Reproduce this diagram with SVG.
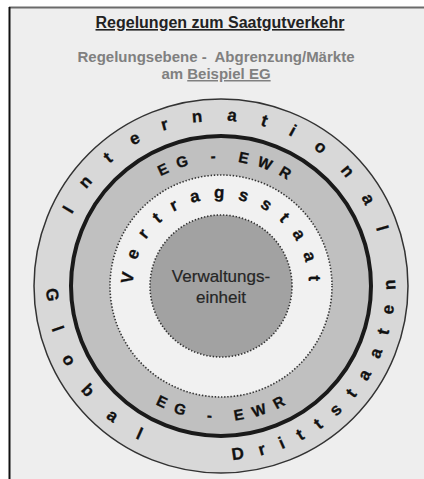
<svg xmlns="http://www.w3.org/2000/svg" xmlns:xlink="http://www.w3.org/1999/xlink" width="424" height="479" viewBox="0 0 424 479">
  <style>
    .ring { font-family: "Liberation Sans", Arial, sans-serif; font-weight: bold; fill: #111; stroke: #111; stroke-width: 0.3; }
    .title { font-family: "Liberation Sans", Arial, sans-serif; font-weight: bold; }
    .dotted { stroke: #333; stroke-width: 1.6; stroke-dasharray: 1.4 1.8; }
  </style>
  <defs>
    <path id="pInt" d="M72.2,214.7 A165,165 0 0 1 385.4,271.6"/>
    <path id="pDritt" d="M232.5,459.6 A174,174 0 0 0 389.1,241.0"/>
    <path id="pGlobal" d="M47.0,289.0 A174,174 0 0 0 190.8,457.4"/>
    <path id="pEgTop" d="M160.8,176.5 A125,125 0 0 1 316.8,205.7"/>
    <path id="pEgBot" d="M155.6,404.1 A135,135 0 0 0 324.4,372.8"/>
    <path id="pVert" d="M133,284.3 A88,88 0 1 1 307.7,301.3"/>
  </defs>

  <rect x="0" y="0" width="424" height="479" fill="#ffffff"/>
  <g id="frame">
    <rect x="9" y="7" width="420" height="480" fill="#eeeeee"/>
    <line x1="9" y1="7.5" x2="424" y2="7.5" stroke="#6a6a6a" stroke-width="2"/>
    <line x1="9.5" y1="7" x2="9.5" y2="479" stroke="#111" stroke-width="2"/>
  </g>

  <g id="heading">
    <text class="title" x="220" y="28" font-size="16" fill="#222" text-anchor="middle" text-decoration="underline">Regelungen zum Saatgutverkehr</text>
    <text class="title" x="216" y="62" font-size="15" fill="#808080" text-anchor="middle" style="white-space:pre">Regelungsebene -  Abgrenzung/Märkte</text>
    <text class="title" x="216" y="79" font-size="15" fill="#808080" text-anchor="middle">am <tspan text-decoration="underline">Beispiel EG</tspan></text>
  </g>

  <g id="ring-global">
    <circle cx="221" cy="286" r="187" fill="#d8d8d8" stroke="#333" stroke-width="1.5"/>
  </g>
  <g id="ring-eg-ewr">
    <circle cx="221" cy="286" r="150" fill="#c0c0c0" stroke="#1a1a1a" stroke-width="4"/>
  </g>
  <g id="ring-vertragsstaat">
    <circle cx="221" cy="286" r="111" fill="#f1f1f1" class="dotted"/>
  </g>
  <g id="verwaltungseinheit">
    <circle cx="221" cy="286" r="71" fill="#a2a2a2" class="dotted"/>
    <text x="221" y="282" font-family="Liberation Sans, Arial, sans-serif" font-size="17" fill="#262626" stroke="#262626" stroke-width="0.2" text-anchor="middle">Verwaltungs-</text>
    <text x="221" y="303" font-family="Liberation Sans, Arial, sans-serif" font-size="17" fill="#262626" stroke="#262626" stroke-width="0.2" text-anchor="middle">einheit</text>
  </g>

  <g id="ring-labels">
    <text class="ring" font-size="17" letter-spacing="23.95"><textPath xlink:href="#pInt" href="#pInt">International</textPath></text>
    <text class="ring" font-size="17" letter-spacing="26.5"><textPath xlink:href="#pGlobal" href="#pGlobal">Global</textPath></text>
    <text class="ring" font-size="17" letter-spacing="15.8"><textPath xlink:href="#pDritt" href="#pDritt">Drittstaaten</textPath></text>
    <text class="ring" font-size="15" letter-spacing="8.9" style="white-space:pre"><textPath xlink:href="#pEgTop" href="#pEgTop">EG - EWR</textPath></text>
    <text class="ring" font-size="15" letter-spacing="9.4" style="white-space:pre"><textPath xlink:href="#pEgBot" href="#pEgBot">EG - EWR</textPath></text>
    <text class="ring" font-size="17" letter-spacing="13.4"><textPath xlink:href="#pVert" href="#pVert">Vertragsstaat</textPath></text>
  </g>

  <g id="connectors"/>
</svg>
